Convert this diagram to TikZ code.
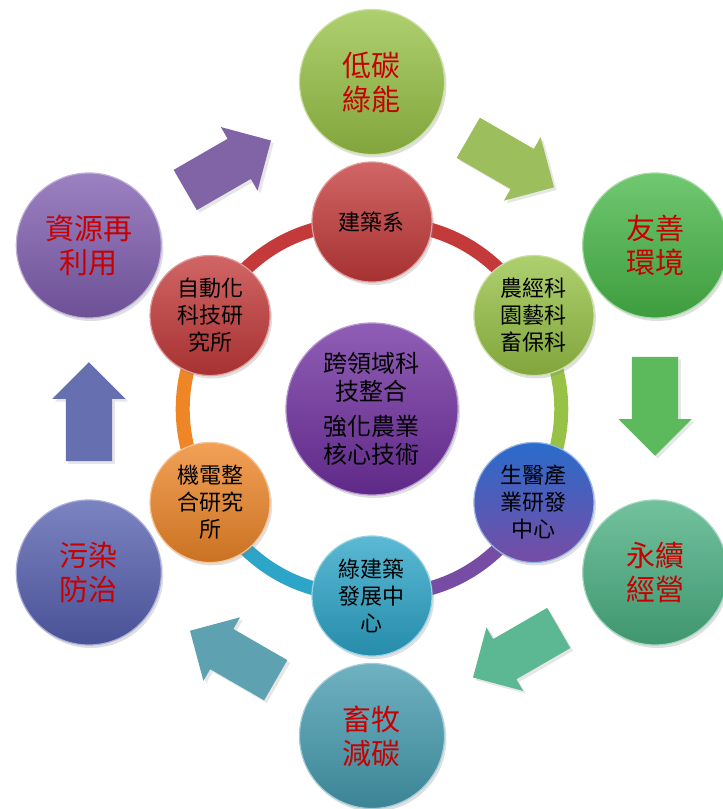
\documentclass[tikz,border=0pt]{standalone}
\usepackage{fontspec}
\setmainfont{Noto Sans CJK TC}
\usetikzlibrary{shapes.arrows,shadows,backgrounds}
\definecolor{cred}{RGB}{196,58,58}
\definecolor{clime}{RGB}{152,194,70}
\definecolor{cblue}{RGB}{42,108,204}
\definecolor{cplum}{RGB}{118,76,164}
\definecolor{ccyan}{RGB}{44,165,200}
\definecolor{corange}{RGB}{238,134,40}
\definecolor{cviolet}{RGB}{112,48,160}
\definecolor{cgreen}{RGB}{72,184,72}
\definecolor{cteal}{RGB}{74,176,130}
\definecolor{csea}{RGB}{70,156,176}
\definecolor{cindigo}{RGB}{86,96,176}
\definecolor{cpurple}{RGB}{128,94,176}
\definecolor{goaltext}{RGB}{200,0,0}
\definecolor{aone}{RGB}{128,100,166}
\definecolor{atwo}{RGB}{156,190,92}
\definecolor{athree}{RGB}{92,186,92}
\definecolor{afour}{RGB}{92,184,146}
\definecolor{afive}{RGB}{94,162,178}
\definecolor{asix}{RGB}{102,112,176}
\begin{document}
\begin{tikzpicture}[x=1pt,y=1pt]
    \tikzset{ball/.style = {shape=circle, inner sep=0pt, align=center,
        top color=#1!78!white, bottom color=#1!85!black, draw=#1!50!white, line width=1.2pt,
        drop shadow={opacity=0.25, shadow xshift=2pt, shadow yshift=-3pt}}}
    \tikzset{goal/.style = {ball=#1, minimum size=145pt, text=goaltext, font=\fontsize{29}{34}\selectfont}}
    \tikzset{unit/.style = {ball=#1, minimum size=120pt, font=\fontsize{22}{27}\selectfont}}
    \tikzset{flow/.style = {single arrow, single arrow head extend=13.5pt, minimum height=99pt,
        inner xsep=0pt, inner ysep=23pt, fill=#1, drop shadow={opacity=0.2}}}
    \tikzset{ring/.style = {line width=14pt, bend left=30}}
    \useasboundingbox (-372,-400) rectangle (351,409);
    % outer goals
    \node[goal=clime] (dt) at (90:327) {低碳\\綠能};
    \node[goal=cgreen] (ys) at (30:327) {友善\\環境};
    \node[goal=cteal] (yx) at (-30:327) {永續\\經營};
    \node[goal=csea] (xm) at (-90:327) {畜牧\\減碳};
    \node[goal=cindigo] (wr) at (-150:327) {污染\\防治};
    \node[goal=cpurple] (zy) at (150:327) {資源再\\利用};
    % arrows between goals
    \node[flow=aone, rotate=30] (f1) at (122.9:283.4) {};
    \node[flow=atwo, rotate=-30] (f2) at (62.9:283.4) {};
    \node[flow=athree, rotate=-90] (f3) at (2.9:283.4) {};
    \node[flow=afour, rotate=-150] (f4) at (-57.1:283.4) {};
    \node[flow=afive, rotate=150] (f5) at (-117.1:283.4) {};
    \node[flow=asix, rotate=90] (f6) at (182.9:283.4) {};
    % inner units
    \node[ball=cviolet, minimum size=172pt, font=\fontsize{24}{28}\selectfont] (core) at (0,0)
        {跨領域科\\技整合\\[7pt]強化農業\\核心技術};
    \node[unit=cred] (jz) at (90:187) {建築系};
    \node[unit=clime] (nj) at (30:187) {農經科\\園藝科\\畜保科};
    \node[unit=cblue, top color=cblue, bottom color=cplum] (sy) at (-30:187) {生醫產\\業研發\\中心};
    \node[unit=ccyan] (lj) at (-90:187) {綠建築\\發展中\\心};
    \node[unit=corange] (jd) at (-150:187) {機電整\\合研究\\所};
    \node[unit=cred] (zd) at (150:187) {自動化\\科技研\\究所};
    \begin{pgfonlayer}{background}
        \draw[ring, cred] (jz.center) to (nj.center);
        \draw[ring, clime] (nj.center) to (sy.center);
        \draw[ring, cplum] (sy.center) to (lj.center);
        \draw[ring, ccyan] (lj.center) to (jd.center);
        \draw[ring, corange] (jd.center) to (zd.center);
        \draw[ring, cred] (zd.center) to (jz.center);
    \end{pgfonlayer}
\end{tikzpicture}
\end{document}
